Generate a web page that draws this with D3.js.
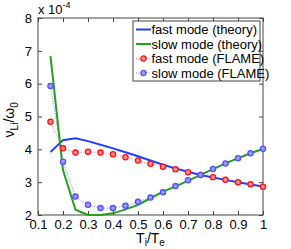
<!DOCTYPE html>
<html>
<head>
<meta charset="utf-8">
<script src="https://cdn.jsdelivr.net/npm/d3@7"></script>
<style>
  body { margin: 0; background: #fff; }
  svg text { font-family: "Liberation Sans", Arial, sans-serif; }
</style>
</head>
<body>
<div id="chart"></div>
<script>
// Ti/Te values
var ratio = [0.15, 0.2, 0.25, 0.3, 0.35, 0.4, 0.45, 0.5, 0.55, 0.6, 0.65, 0.7, 0.75, 0.8, 0.85, 0.9, 0.95, 1.0];
// values in units of 1e-4
var fastTheory = [3.92, 4.28, 4.34, 4.25, 4.14, 4.03, 3.91, 3.79, 3.66, 3.53, 3.42, 3.32, 3.22, 3.14, 3.07, 3.00, 2.93, 2.87];
var slowTheory = [6.84, 3.37, 2.16, 2.00, 2.00, 2.05, 2.17, 2.31, 2.51, 2.71, 2.87, 3.04, 3.22, 3.40, 3.57, 3.73, 3.88, 4.01];
var fastFlame  = [4.84, 4.03, 3.90, 3.93, 3.90, 3.85, 3.76, 3.66, 3.56, 3.47, 3.39, 3.30, 3.22, 3.15, 3.07, 3.00, 2.94, 2.86];
var slowFlame  = [5.93, 3.62, 2.56, 2.31, 2.21, 2.21, 2.28, 2.40, 2.53, 2.69, 2.88, 3.06, 3.22, 3.40, 3.57, 3.73, 3.88, 4.02];
var xTicks = [0.1, 0.2, 0.3, 0.4, 0.5, 0.6, 0.7, 0.8, 0.9, 1];
var yTicks = [2, 3, 4, 5, 6, 7, 8];

var margin = {top: 18, right: 28, bottom: 34, left: 38},
    width = 291 - margin.left - margin.right,
    height = 249 - margin.top - margin.bottom;

var svg = d3.select("#chart")
  .append("svg")
    .attr("width", 291)
    .attr("height", 249)
  .append("g")
    .attr("transform", "translate(" + margin.left + "," + margin.top + ")");

var x = d3.scaleLinear().domain([0.1, 1]).range([0, width]);
var y = d3.scaleLinear().domain([2, 8]).range([height, 0]);

var axisColor = "#444";

// axes with inward ticks
function styleAxis(g) {
  g.select(".domain").remove();
  g.selectAll(".tick line").attr("stroke", axisColor);
  g.selectAll(".tick text").attr("fill", "#000").style("font-size", "13px");
}

svg.append("g")
  .attr("transform", "translate(0," + height + ")")
  .call(d3.axisBottom(x).tickValues(xTicks).tickFormat(d3.format("")).tickSizeInner(-4).tickPadding(5))
  .call(styleAxis);
svg.append("g")
  .call(d3.axisTop(x).tickValues(xTicks).tickSizeInner(-4).tickFormat(""))
  .call(styleAxis);
svg.append("g")
  .call(d3.axisLeft(y).tickValues(yTicks).tickFormat(d3.format("d")).tickSizeInner(-4).tickPadding(6))
  .call(styleAxis);
svg.append("g")
  .attr("transform", "translate(" + width + ",0)")
  .call(d3.axisRight(y).tickValues(yTicks).tickSizeInner(-4).tickFormat(""))
  .call(styleAxis);

svg.append("rect")
  .attr("width", width).attr("height", height)
  .attr("fill", "none").attr("stroke", axisColor).attr("stroke-width", 1);

var line = function(vals) {
  return d3.line()
    .x(function(d, i) { return x(ratio[i]); })
    .y(function(d) { return y(d); })(vals);
};

var plot = svg.append("g");

// FLAME dotted lines
plot.append("path").attr("d", line(fastFlame))
  .attr("fill", "none").attr("stroke", "#ff8080").attr("stroke-width", 1).attr("stroke-dasharray", "1,1.5");
plot.append("path").attr("d", line(slowFlame))
  .attr("fill", "none").attr("stroke", "#8080ff").attr("stroke-width", 1).attr("stroke-dasharray", "1,1.5");

// theory lines
plot.append("path").attr("d", line(fastTheory))
  .attr("fill", "none").attr("stroke", "#1f3fff").attr("stroke-width", 2);
plot.append("path").attr("d", line(slowTheory))
  .attr("fill", "none").attr("stroke", "#22a01e").attr("stroke-width", 2);

// markers
plot.selectAll(".fastPt")
  .data(fastFlame)
  .enter()
  .append("circle")
    .attr("cx", function(d, i) { return x(ratio[i]); })
    .attr("cy", function(d) { return y(d); })
    .attr("r", 2.6)
    .attr("fill", "#ff9090").attr("stroke", "#ff1010").attr("stroke-width", 1.3);
plot.selectAll(".slowPt")
  .data(slowFlame)
  .enter()
  .append("circle")
    .attr("cx", function(d, i) { return x(ratio[i]); })
    .attr("cy", function(d) { return y(d); })
    .attr("r", 2.6)
    .attr("fill", "#9a9aff").attr("stroke", "#5050ff").attr("stroke-width", 1.3);

// exponent label
var expo = svg.append("text")
  .attr("x", 0).attr("y", -4)
  .style("font-size", "13px");
expo.append("tspan").text("x 10");
expo.append("tspan").attr("dy", -6).style("font-size", "9px").text("-4");

// legend
var legendItems = [
  {label: "fast mode (theory)", color: "#1f3fff", dotted: false},
  {label: "slow mode (theory)", color: "#22a01e", dotted: false},
  {label: "fast mode (FLAME)", color: "#ff1010", dotted: true, lineColor: "#ff8080", fill: "#ff9090"},
  {label: "slow mode (FLAME)", color: "#5050ff", dotted: true, lineColor: "#8080ff", fill: "#9a9aff"}
];
var lg = svg.append("g").attr("transform", "translate(" + (x(0.48)) + ",3)");
lg.append("rect").attr("width", 127).attr("height", 60)
  .attr("fill", "#fff").attr("stroke", axisColor);
legendItems.forEach(function(it, i) {
  var row = lg.append("g").attr("transform", "translate(0," + (8.5 + i * 14.5) + ")");
  if (it.dotted) {
    row.append("line").attr("x1", 3).attr("x2", 18).attr("y1", 0).attr("y2", 0)
      .attr("stroke", it.lineColor).attr("stroke-dasharray", "1,1.5");
    row.append("circle").attr("cx", 10.5).attr("cy", 0).attr("r", 2.6)
      .attr("fill", it.fill).attr("stroke", it.color).attr("stroke-width", 1.3);
  } else {
    row.append("line").attr("x1", 3).attr("x2", 18).attr("y1", 0).attr("y2", 0)
      .attr("stroke", it.color).attr("stroke-width", 2);
  }
  row.append("text").attr("x", 18.5).attr("y", 4.5).style("font-size", "13px").text(it.label);
});

// axis labels
var xl = svg.append("text")
  .attr("x", width / 2).attr("y", height + 28)
  .attr("text-anchor", "middle").style("font-size", "14px");
xl.append("tspan").text("T");
xl.append("tspan").attr("dy", 3).style("font-size", "10px").text("i");
xl.append("tspan").attr("dy", -3).text("/T");
xl.append("tspan").attr("dy", 3).style("font-size", "10px").text("e");

var yl = svg.append("text")
  .attr("transform", "translate(-24," + (y(4.9)) + ")rotate(-90)")
  .attr("text-anchor", "middle").style("font-size", "14px");
yl.append("tspan").text("\u03bd");
yl.append("tspan").attr("dy", 4).style("font-size", "10px").text("Li");
yl.append("tspan").attr("dy", -4).text("/\u03c9");
yl.append("tspan").attr("dy", 4).style("font-size", "10px").text("0");
</script>
</body>
</html>
